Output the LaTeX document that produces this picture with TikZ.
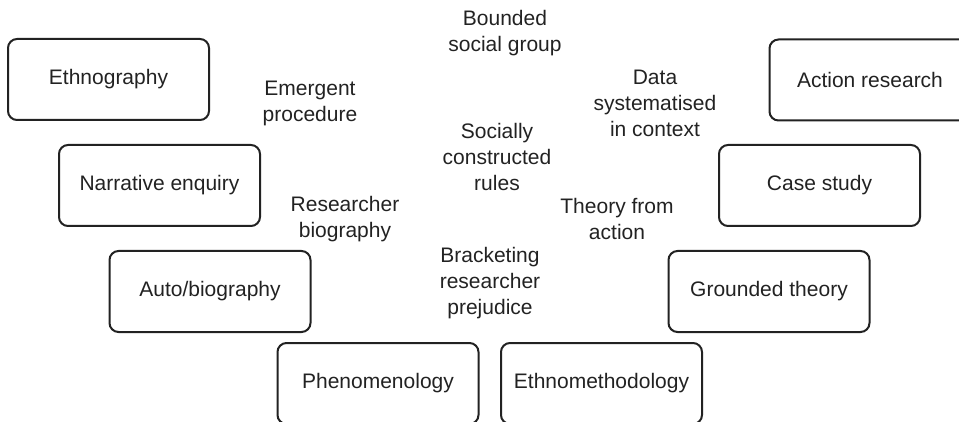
\documentclass[tikz,border=0pt]{standalone}
\usepackage{fontspec}
\setmainfont{Liberation Sans}
\definecolor{ink}{HTML}{222222}
\begin{document}
\begin{tikzpicture}[x=1pt,y=-1pt,
  method/.style={draw=ink,line width=2pt,rounded corners=9pt,minimum width=201pt,minimum height=81pt,text=ink,font=\fontsize{21}{26}\selectfont,inner sep=0pt},
  theme/.style={text=ink,font=\fontsize{21}{26}\selectfont,align=center,inner sep=0pt}]
\useasboundingbox (0,0) rectangle (959,422);
\node[method] (eth) at (108.5,79.5) {Ethnography};
\node[method] (act) at (870,80) {Action research};
\node[method] (nar) at (159.5,185.5) {Narrative enquiry};
\node[method] (cas) at (819.5,185.5) {Case study};
\node[method] (aut) at (210,291.5) {Auto/biography};
\node[method] (gro) at (769,291.5) {Grounded theory};
\node[method] (phe) at (378,383.5) {Phenomenology};
\node[method] (etm) at (601.5,383.5) {Ethnomethodology};
\node[theme] (t1) at (505,33) {Bounded\\social group};
\node[theme] (t2) at (310,103) {Emergent\\procedure};
\node[theme] (t3) at (655,103) {Data\\systematised\\in context};
\node[theme] (t4) at (497,157) {Socially\\constructed\\rules};
\node[theme] (t5) at (617,219) {Theory from\\action};
\node[theme] (t6) at (345,219) {Researcher\\biography};
\node[theme] (t7) at (490,283) {Bracketing\\researcher\\prejudice};
\end{tikzpicture}
\end{document}
